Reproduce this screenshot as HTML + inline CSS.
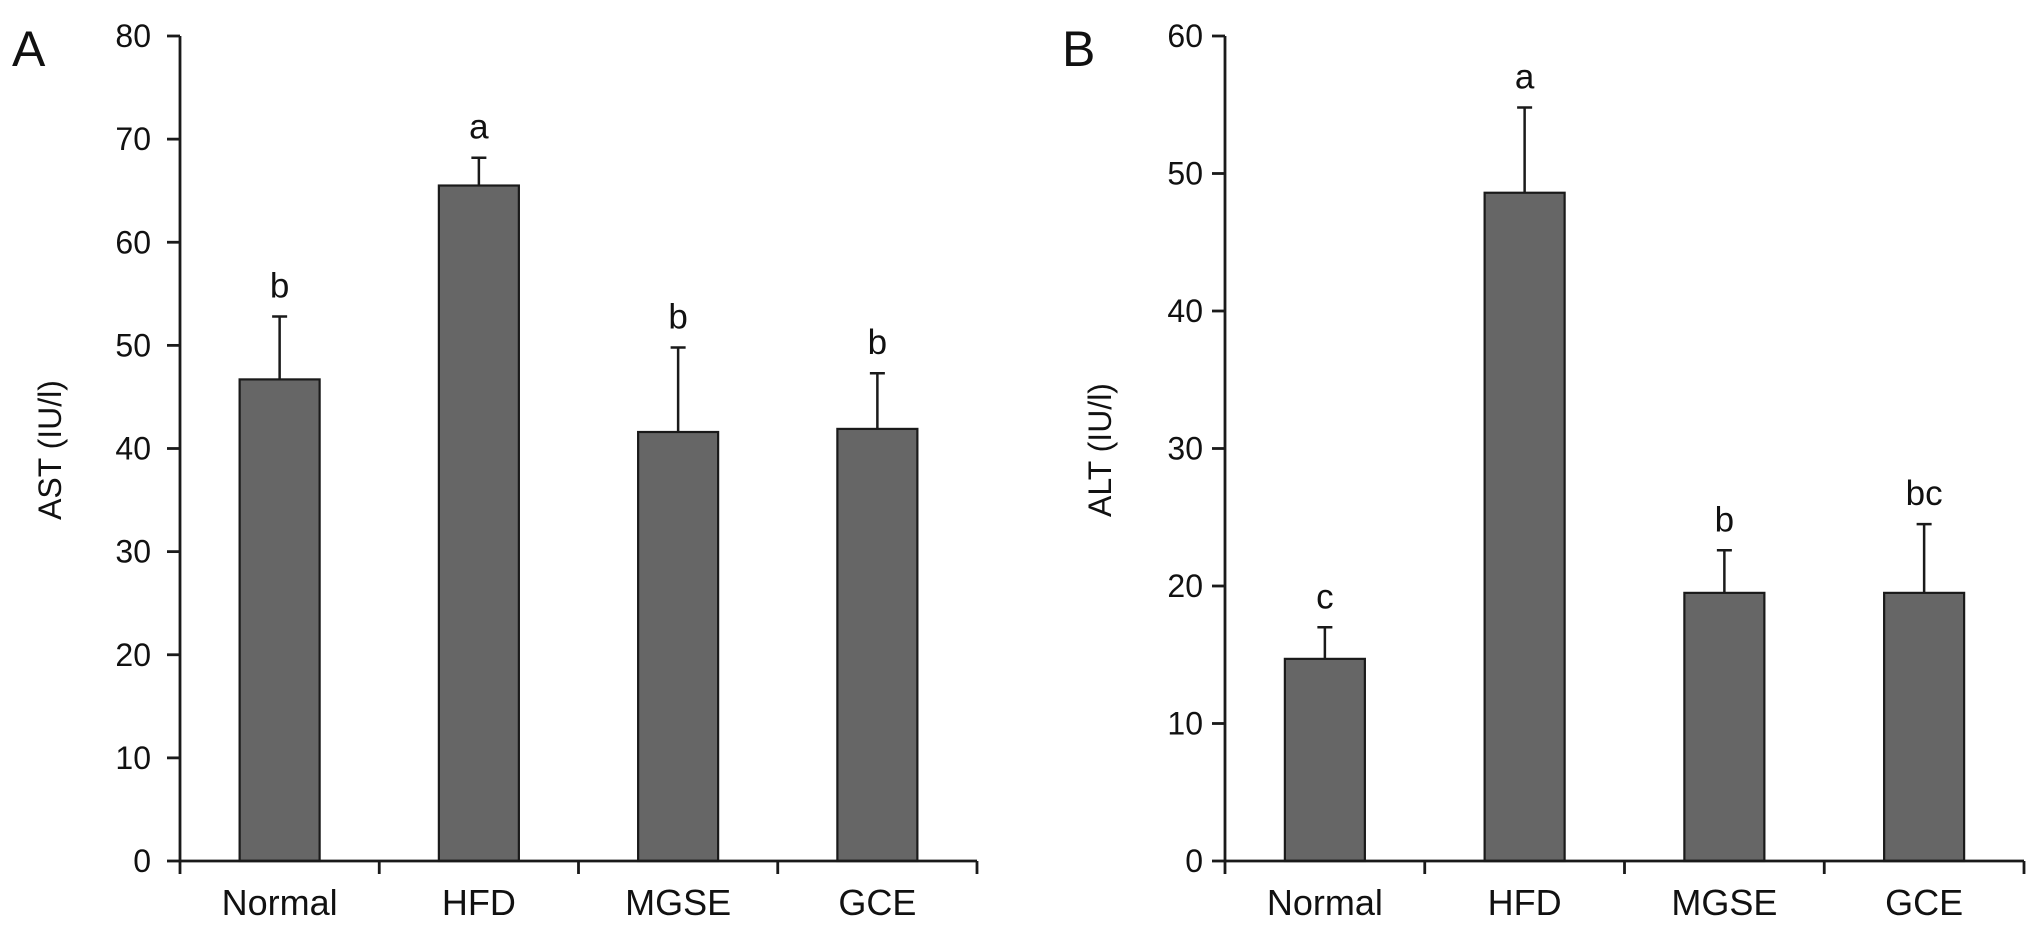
<!DOCTYPE html>
<html><head><meta charset="utf-8"><style>
html,body{margin:0;padding:0;background:#fff;}
svg{display:block;font-family:"Liberation Sans",Arial,sans-serif;}
</style></head><body>
<svg id="chart" width="2032" height="930" viewBox="0 0 2032 930"></svg>
<script>
const categories = ["Normal","HFD","MGSE","GCE"];
const astValues = [46.7, 65.5, 41.6, 41.9];
const astErrors = [6.1, 2.7, 8.2, 5.4];
const astLetters = ["b","a","b","b"];
const astTicks = [0,10,20,30,40,50,60,70,80];
const altValues = [14.7, 48.6, 19.5, 19.5];
const altErrors = [2.3, 6.2, 3.1, 5.0];
const altLetters = ["c","a","b","bc"];
const altTicks = [0,10,20,30,40,50,60];

const NS = "http://www.w3.org/2000/svg";
const svg = document.getElementById('chart');
function mk(tag, attrs, parent){
  const e = document.createElementNS(NS, tag);
  for (const k in attrs) e.setAttribute(k, attrs[k]);
  (parent||svg).appendChild(e);
  return e;
}
function panel(cfg){
  const g = mk('g', {});
  
  
  const x0 = cfg.x0, x1 = cfg.x1, yTop = 36, yBot = 861;
  const maxV = cfg.ticks[cfg.ticks.length-1];
  const y = v => yBot - (v/maxV)*(yBot-yTop);
  const bandW = (x1-x0)/categories.length;
  const xc = i => x0 + bandW*(i+0.5);
  const pl = mk('text', {x:cfg.letterX, y:66, 'font-size':50, fill:'#111'}, g);
  pl.textContent = cfg.letter;
  
  
  const yt = mk('text', {x:cfg.titleX, y:450, 'font-size':32, fill:'#111', 'text-anchor':'middle', transform:`rotate(-90 ${cfg.titleX} 450)`}, g);
  yt.textContent = cfg.title;
  
  
  cfg.values.forEach((v,i)=>{
    const bw = 80;
    const r = mk('rect', {x:xc(i)-bw/2, y:y(v), width:bw, height:yBot-y(v), fill:'#666666', stroke:'#1a1a1a', 'stroke-width':2.2}, g);
    
    
    const top = y(v + cfg.errors[i]);
    const eb = mk('path', {d:`M${xc(i)} ${y(v)} V${top} M${xc(i)-7.5} ${top} H${xc(i)+7.5}`, stroke:'#1a1a1a', 'stroke-width':2.5, fill:'none'}, g);
    
    
    const lt = mk('text', {x:xc(i), y:top-19, 'font-size':35, fill:'#111', 'text-anchor':'middle'}, g);
    lt.textContent = cfg.letters[i];
    
    
    const cl = mk('text', {x:xc(i), y:915, 'font-size':36, fill:'#111', 'text-anchor':'middle'}, g);
    cl.textContent = categories[i];
    
    
  });
  const ax = mk('path', {d:`M${x0} ${yTop} V${yBot} H${x1}`, stroke:'#1a1a1a', 'stroke-width':2.8, fill:'none'}, g);
  
  
  cfg.ticks.forEach(t=>{
    const tk = mk('line', {x1:x0-13, x2:x0, y1:y(t), y2:y(t), stroke:'#1a1a1a', 'stroke-width':2.8}, g);
    
    
    const tl = mk('text', {x:x0-cfg.labelGap, y:y(t)+11, 'font-size':32, fill:'#111', 'text-anchor':'end'}, g);
    tl.textContent = t;
    
    
  });
  for (let i=0;i<=categories.length;i++){
    const xx = x0 + bandW*i;
    const tk = mk('line', {x1:xx, x2:xx, y1:yBot, y2:yBot+13, stroke:'#1a1a1a', 'stroke-width':2.8}, g);
    
    
  }
}
panel({name:'panel-a-ast', x0:180, x1:977, ticks:astTicks, values:astValues, errors:astErrors, letters:astLetters, letter:'A', letterX:12, title:'AST (IU/l)', titleX:61, labelGap:29});
panel({name:'panel-b-alt', x0:1225, x1:2024, ticks:altTicks, values:altValues, errors:altErrors, letters:altLetters, letter:'B', letterX:1062, title:'ALT (IU/l)', titleX:1111, labelGap:22});
</script>
</body></html>
